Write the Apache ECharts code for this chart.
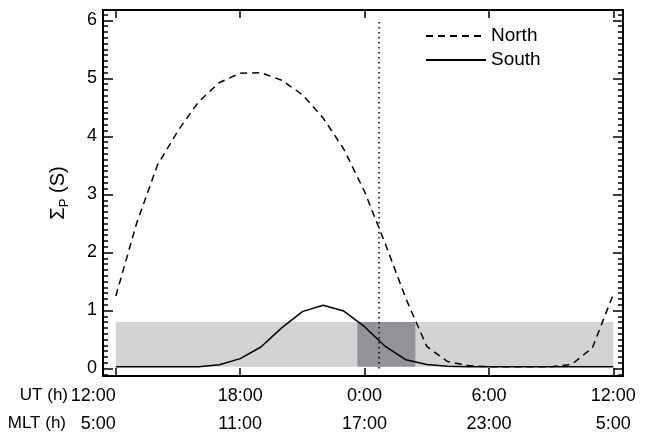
<!DOCTYPE html>
<html>
<head>
<meta charset="utf-8">
<script src="https://cdn.jsdelivr.net/npm/echarts@6/dist/echarts.min.js"></script>
<style>
  html, body { margin: 0; padding: 0; background: #fff; }
  #chart { width: 650px; height: 438px; }
</style>
</head>
<body>
<div id="chart"></div>
<script>
// hours after 12:00 UT
var hours = [0, 1, 2, 3, 4, 5, 6, 7, 8, 9, 10, 11, 12, 13, 14, 15, 16, 17, 18, 19, 20, 21, 22, 23, 24];
var north = [1.25, 2.5, 3.5, 4.1, 4.6, 4.93, 5.09, 5.1, 4.97, 4.72, 4.32, 3.78, 3.05, 2.15, 1.2, 0.38, 0.12, 0.05, 0.03, 0.03, 0.03, 0.03, 0.07, 0.36, 1.28];
var south = [0.03, 0.03, 0.03, 0.03, 0.03, 0.065, 0.17, 0.37, 0.7, 0.98, 1.09, 0.99, 0.72, 0.38, 0.15, 0.07, 0.04, 0.03, 0.03, 0.03, 0.03, 0.03, 0.03, 0.03, 0.03];

var tickHours = [0, 6, 12, 18, 24];
var utLabels = ['12:00', '18:00', '0:00', '6:00', '12:00'];
var mltLabels = ['5:00', '11:00', '17:00', '23:00', '5:00'];
var yTicks = [0, 1, 2, 3, 4, 5, 6];

// shaded bands [x0, y0, x1, y1]
var lightBand = [0, 0.03, 24, 0.8];
var darkBand = [11.65, 0.03, 14.45, 0.8];
var markerHour = 12.7;
var markerTop = 6.0;

var xMin = -0.62, xMax = 24.47;
var yMin = -0.13, yMax = 6.18;

var minorTicks = [];
for (var v = -1; v <= 61; v++) {
    if (v % 10 !== 0) minorTicks.push(v / 10);
}

function pairs(xs, ys) {
    return xs.map(function (x, i) { return [x, ys[i]]; });
}

var font = 'Liberation Sans, Arial, sans-serif';
var axisLine = { show: true, onZero: false, lineStyle: { color: '#000', width: 2 } };
var noLine = { show: false, onZero: false };

function xAx(pos, labels) {
    return {
        type: 'value', position: pos, min: xMin, max: xMax,
        axisLine: axisLine,
        splitLine: { show: false },
        axisTick: { show: true, inside: true, length: 8, customValues: tickHours,
                    lineStyle: { color: '#000', width: 1.5 } },
        axisLabel: labels ? {
            show: true, customValues: tickHours, margin: 6,
            alignMinLabel: 'right',
            fontSize: 18, fontFamily: font, color: '#000', lineHeight: 28,
            formatter: function (val) {
                var i = tickHours.indexOf(val);
                return utLabels[i] + '\n' + mltLabels[i];
            }
        } : { show: false }
    };
}

function yAx(pos, ticks, len, labels, showLine) {
    return {
        type: 'value', position: pos, min: yMin, max: yMax,
        axisLine: showLine ? axisLine : noLine,
        splitLine: { show: false },
        axisTick: { show: true, inside: true, length: len, customValues: ticks,
                    lineStyle: { color: '#000', width: 1.5 } },
        axisLabel: labels ? {
            show: true, customValues: yTicks, margin: 6,
            fontSize: 18, fontFamily: font, color: '#000'
        } : { show: false }
    };
}

var yLeft = yAx('left', yTicks, 10, true, true);
yLeft.name = '{s|Σ}{sub|P}{s| (S)}';
yLeft.nameLocation = 'middle';
yLeft.nameRotate = 90;
yLeft.nameGap = 32;
yLeft.nameTextStyle = {
    fontFamily: font, color: '#000',
    rich: {
        s: { fontSize: 20, fontFamily: font, color: '#000', lineHeight: 26, verticalAlign: 'middle' },
        sub: { fontSize: 13, fontFamily: font, color: '#000', lineHeight: 26, verticalAlign: 'bottom', padding: [7, 0, 0, 0] }
    }
};

var chart = echarts.init(document.getElementById('chart'), null, { renderer: 'canvas' });

var option = {
    animation: false,
    backgroundColor: '#fff',
    grid: { left: 103, right: 27, top: 10, bottom: 60 },
    legend: {
        data: ['North', 'South'],
        orient: 'vertical', left: 425, top: 26, padding: 0,
        itemWidth: 60, itemHeight: 14, itemGap: 4,
        itemStyle: { opacity: 0 },
        textStyle: { fontSize: 19, lineHeight: 20, fontFamily: font, color: '#000' }
    },
    xAxis: [xAx('bottom', true), xAx('top', false)],
    yAxis: [
        yLeft,
        yAx('left', minorTicks, 5, false, false),
        yAx('right', yTicks, 10, false, true),
        yAx('right', minorTicks, 5, false, false)
    ],
    series: [
        {
            name: 'bands', type: 'line', data: [], z: 1, silent: true,
            markArea: {
                silent: true,
                data: [
                    [{ coord: [lightBand[0], lightBand[1]], itemStyle: { color: '#d3d3d5' } },
                     { coord: [lightBand[2], lightBand[3]] }],
                    [{ coord: [darkBand[0], darkBand[1]], itemStyle: { color: '#939397' } },
                     { coord: [darkBand[2], darkBand[3]] }]
                ]
            }
        },
        {
            name: 'marker', type: 'line', z: 3, symbol: 'none',
            data: [[markerHour, 0], [markerHour, markerTop]],
            lineStyle: { color: '#000', width: 1.5, type: [1.5, 3.5] }
        },
        {
            name: 'North', type: 'line', z: 4, symbol: 'none',
            data: pairs(hours, north),
            lineStyle: { color: '#000', width: 1.5, type: [7, 5] },
            itemStyle: { color: '#000' }
        },
        {
            name: 'South', type: 'line', z: 4, symbol: 'none',
            data: pairs(hours, south),
            lineStyle: { color: '#000', width: 1.5, type: 'solid' },
            itemStyle: { color: '#000' }
        }
    ],
    graphic: [
        { type: 'text', right: 650 - 68, top: 387,
          style: { text: 'UT (h)', fontSize: 17, fontFamily: font, fill: '#000' } },
        { type: 'text', right: 650 - 66, top: 415,
          style: { text: 'MLT (h)', fontSize: 17, fontFamily: font, fill: '#000' } }
    ]
};

chart.setOption(option);
</script>
</body>
</html>
